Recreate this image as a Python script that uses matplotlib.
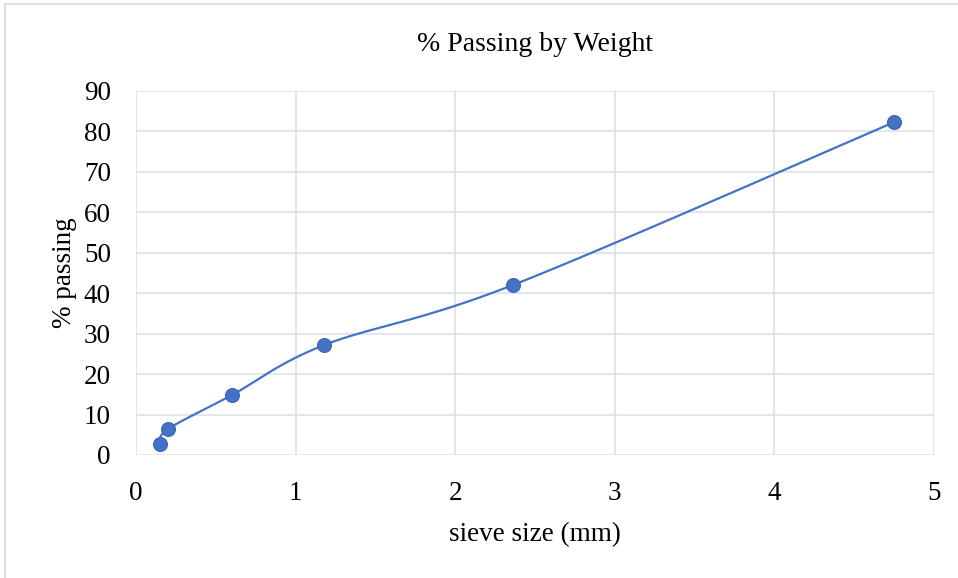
import numpy as np
import matplotlib
matplotlib.use("Agg")
import matplotlib.pyplot as plt
from matplotlib.patches import Rectangle

sieve_mm = [0.15, 0.2, 0.6, 1.18, 2.36, 4.75]
pct_passing = [2.8, 6.4, 14.8, 27.2, 42.0, 82.3]
x_ticks = [0, 1, 2, 3, 4, 5]
y_ticks = [0, 10, 20, 30, 40, 50, 60, 70, 80, 90]

W, H = 958, 578
fig = plt.figure(figsize=(W / 100, H / 100), dpi=100)
plt.rcParams['font.family'] = ['Liberation Serif', 'DejaVu Serif']

x0, x1, y0, y1 = 136, 934, 91, 455
ax = fig.add_axes([x0 / W, (H - y1) / H, (x1 - x0) / W, (y1 - y0) / H])
ax.set_xlim(0, 5)
ax.set_ylim(0, 90)

# Excel-style smoothed line (Catmull-Rom Bezier in display-scaled space)
sx = (x1 - x0) / 5.0
sy = (y1 - y0) / 90.0
P = np.column_stack([np.array(sieve_mm) * sx, np.array(pct_passing) * sy])
n = len(P)
curve = []
t = np.linspace(0, 1, 60)
for i in range(n - 1):
    p0 = P[i - 1] if i > 0 else P[i]
    p1 = P[i]
    p2 = P[i + 1]
    p3 = P[i + 2] if i + 2 < n else P[i + 1]
    c1 = p1 + (p2 - p0) / 6.0
    c2 = p2 - (p3 - p1) / 6.0
    seg = ((1 - t) ** 3)[:, None] * p1 + (3 * (1 - t) ** 2 * t)[:, None] * c1 \
        + (3 * (1 - t) * t ** 2)[:, None] * c2 + (t ** 3)[:, None] * p2
    curve.append(seg)
curve = np.vstack(curve)
ax.plot(curve[:, 0] / sx, curve[:, 1] / sy, color='#4472C4', lw=1.6, zorder=3, clip_on=False)
ax.plot(sieve_mm, pct_passing, 'o', color='#4472C4', ms=10, mec='#3a65b5', mew=0.8, zorder=4, clip_on=False)

fs = 19.5
ax.set_xticks(x_ticks)
ax.set_yticks(y_ticks)
ax.grid(True, color='#dde1e8', lw=1.2)
ax.set_axisbelow(True)
for s in ax.spines.values():
    s.set_visible(False)
ax.tick_params(length=0, labelsize=fs)
ax.tick_params(axis='x', pad=19)
ax.tick_params(axis='y', pad=18)
ax.set_xlabel('sieve size (mm)', fontsize=fs, labelpad=11)
ax.set_ylabel('% passing', fontsize=fs, labelpad=5)
ax.set_title('% Passing by Weight', fontsize=20, pad=29)

fig.patches.append(Rectangle((5 / W, -0.01), 1.02, (H - 4) / H + 0.01, transform=fig.transFigure,
                             fill=False, edgecolor='#d9d9d9', lw=1.2))

fig.savefig('out.png', dpi=100)
